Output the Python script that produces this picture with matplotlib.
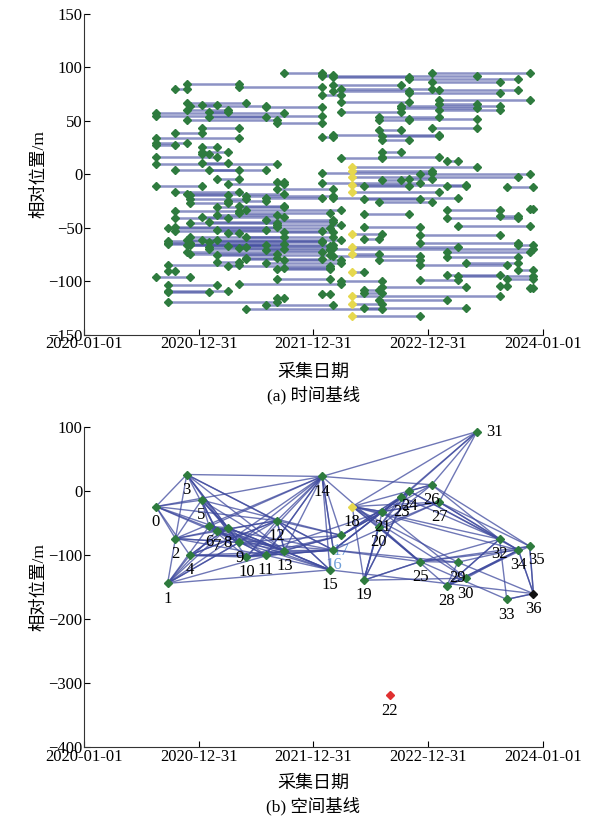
import matplotlib
matplotlib.use("Agg")
import matplotlib.pyplot as plt
import matplotlib.dates as mdates
import pandas as pd

plt.rcParams['font.family'] = ['Liberation Serif', 'Noto Sans CJK SC']
plt.rcParams['axes.unicode_minus'] = True

# 采集日期 (相对 2020-01-01 的天数)
day_offset = [229, 266, 291, 327, 337, 374, 398, 422, 458, 494, 517, 578, 614, 638,
              758, 783, 794, 819, 854, 891, 939, 950, 974, 1010, 1035, 1070, 1107,
              1131, 1155, 1190, 1216, 1251, 1323, 1346, 1383, 1419, 1431]
dates = pd.Timestamp('2020-01-01') + pd.to_timedelta(day_offset, unit='D')

# 空间基线 相对位置/m
perp = [-24, -144, -74, 26, -100, -14, -55, -62, -57, -80, -103, -100, -46, -93,
        23, -123, -92, -69, -24, -139, -56, -32, -319, -9, 0, -110, 10, -17,
        -148, -111, -136, 93, -75, -169, -92, -86, -160]

ref_idx = 18      # 主影像
outlier_idx = 22  # 剔除影像

# 干涉对: 起始影像, 结束影像, 时间基线图中的纵向位置
seg_start = [13, 26, 14, 16, 24, 26, 3, 16, 9, 2, 17, 16, 27, 24, 14, 27, 17, 3, 27, 5,
             4, 23, 11, 23, 3, 27, 6, 17, 0, 0, 6, 20, 24, 3, 20, 12, 5, 26, 20, 2,
             16, 21, 14, 0, 21, 0, 0, 5, 21, 5, 5, 0, 21, 17, 28, 5, 0, 2, 6, 18,
             14, 25, 18, 7, 21, 24, 12, 8, 14, 0, 28, 19, 33, 18,
             2, 18, 4, 4, 11, 16, 19, 4, 20, 7, 10, 28, 35, 2, 9, 19, 32, 2, 28, 11,
             4, 12, 29, 2, 19, 7, 13, 8, 18, 25, 10, 3, 19, 1, 1, 1, 3, 34, 4, 18,
             6, 15, 6, 11, 4, 18, 16, 28, 10, 20, 13, 7, 1, 8, 12, 34, 1, 18, 28, 0,
             12, 33, 17, 25, 9, 1, 21, 32, 35, 19, 1, 1, 19, 14, 18, 12, 20, 1, 11, 18,
             19, 10, 18,
             1, 2, 4, 5, 6, 8, 9, 3, 7, 10, 11, 13, 6, 5, 7, 9, 8, 10, 3, 12,
             14, 18, 25, 29, 30, 28, 25]
seg_end = [14, 35, 16, 24, 34, 32, 9, 23, 14, 3, 26, 24, 34, 32, 17, 35, 24, 10, 31, 7,
           11, 32, 14, 31, 8, 32, 8, 23, 13, 14, 11, 27, 31, 12, 24, 14, 9, 31, 23, 5,
           27, 27, 16, 9, 24, 3, 2, 7, 23, 8, 6, 7, 27, 21, 29, 8, 12, 11, 9, 26,
           26, 35, 34, 9, 23, 26, 13, 13, 25, 5, 30, 24, 36, 30,
           9, 27, 8, 10, 14, 29, 25, 8, 26, 13, 17, 32, 36, 9, 15, 24, 34, 8, 34, 16,
           12, 17, 35, 12, 25, 11, 16, 9, 21, 32, 13, 7, 20, 14, 4, 13, 16, 36, 11, 29,
           10, 36, 13, 15, 12, 20, 25, 34, 12, 25, 17, 9, 9, 15, 15, 36, 2, 19, 32, 4,
           15, 36, 21, 29, 17, 7, 30, 33, 36, 20, 8, 6, 21, 15, 32, 13, 28, 12, 16, 21,
           30, 21, 25,
           15, 14, 16, 17, 14, 15, 16, 14, 15, 14, 17, 15, 16, 13, 12, 13, 11, 16, 13, 16,
           31, 31, 33, 36, 34, 35, 34]
seg_pos = [95, 95, 93, 91, 89, 86, 85, 84, 82, 80, 80, 78, 79, 76, 74, 70, 68, 67, 66, 65,
           64, 64, 63, 62, 60, 60, 58, 58, 57, 55, 54, 54, 52, 51, 51, 48, 43, 43, 42, 39,
           37, 36, 35, 34, 32, 29, 28, 26, 21, 21, 19, 16, 16, 15, 13, 11, 10, 4, 4, 3,
           1, 0, -2, -4, -5, -4, -7, -9, -8, -11, -11, -11, -12, -10,
           -16, -16, -19, -23, -22, -22, -23, -27, -26, -30, -33, -33, -32, -34, -36, -37, -39, -41, -41, -43,
           -45, -47, -48, -49, -49, -52, -54, -55, -56, -57, -58, -61, -60, -62, -64, -65, -66, -66, -66, -68,
           -68, -70, -70, -71, -74, -74, -76, -77, -78, -80, -80, -82, -85, -86, -88, -89, -90, -91, -94, -96,
           -98, -98, -100, -99, -102, -103, -105, -104, -106, -108, -109, -110, -111, -112, -114, -115, -117, -119, -122, -121,
           -125, -126, -132,
           -50, -53, -58, -61, -63, -67, -69, -72, -75, -79, -83, -87, -44, -40, -38, -29, -25, -20, -18, -14,
           92, 7, -85, -95, -83, -72, -64]

line_c = '#3f4a9e'
green = '#2e7b3e'
yellow = '#e6d84e'

fig = plt.figure(figsize=(5.92, 8.23), dpi=100)
ax1 = fig.add_axes([0.142, 0.593, 0.775, 0.390])
ax2 = fig.add_axes([0.142, 0.092, 0.775, 0.389])

# (a) 时间基线
for s, e, p in zip(seg_start, seg_end, seg_pos):
    ax1.plot([dates[s], dates[e]], [p, p], color=line_c, lw=1.8, alpha=0.6, zorder=1)
for s, e, p in zip(seg_start, seg_end, seg_pos):
    for k in (s, e):
        c = yellow if k == ref_idx else green
        ax1.plot(dates[k], p, 'D', color=c, ms=4.4, mec=c, zorder=3)

ax1.set_ylim(-150, 150)
ax1.set_yticks([-150, -100, -50, 0, 50, 100, 150])

# (b) 空间基线
for s, e in zip(seg_start, seg_end):
    ax2.plot([dates[s], dates[e]], [perp[s], perp[e]], color=line_c, lw=1.0, alpha=0.75, zorder=2)
for k in range(len(dates)):
    if k == ref_idx:
        c = yellow
    elif k == outlier_idx:
        c = '#e03030'
    elif k == 36:
        c = '#111111'
    else:
        c = green
    ax2.plot(dates[k], perp[k], 'D', color=c, ms=3.8, mec=c, zorder=4)
    off = (0, -11)
    if k == 31:
        off = (13, 0)
    elif k == 35:
        off = (5, -10)
    tc = '#6f9fd8' if k in (16, 17) else 'black'
    zo = 1 if k in (16, 17) else 5
    ax2.annotate(str(k), (dates[k], perp[k]), xytext=off, textcoords='offset points',
                 ha='center', va='center', fontsize=12, color=tc, zorder=zo)

ax2.set_ylim(-400, 100)
ax2.set_yticks([-400, -300, -200, -100, 0, 100])

ticks = pd.to_datetime(['2020-01-01', '2020-12-31', '2021-12-31', '2022-12-31', '2024-01-01'])
for ax in (ax1, ax2):
    ax.set_xlim(ticks[0], ticks[-1])
    ax.set_xticks(ticks)
    ax.xaxis.set_major_formatter(mdates.DateFormatter('%Y-%m-%d'))
    ax.spines['top'].set_visible(False)
    ax.spines['right'].set_visible(False)
    ax.spines['left'].set_color('#333333')
    ax.spines['bottom'].set_color('#333333')
    ax.tick_params(direction='in', length=4, labelsize=12, pad=1)
    ax.set_ylabel('相对位置/m', fontsize=12.5, labelpad=1)

fig.text(0.529, 0.548, '采集日期', ha='center', va='center', fontsize=13)
fig.text(0.529, 0.520, '(a) 时间基线', ha='center', va='center', fontsize=12.5)
fig.text(0.529, 0.048, '采集日期', ha='center', va='center', fontsize=13)
fig.text(0.529, 0.020, '(b) 空间基线', ha='center', va='center', fontsize=12.5)

fig.savefig('out.png', dpi=100)
